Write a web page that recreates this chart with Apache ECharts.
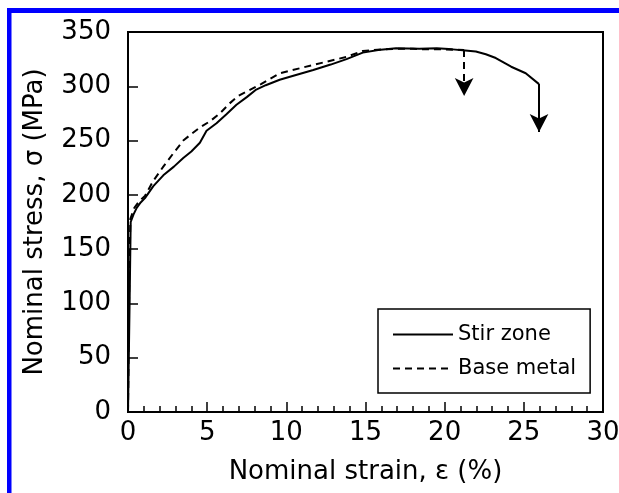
<!DOCTYPE html>
<html>
<head>
<meta charset="utf-8">
<script src="https://cdn.jsdelivr.net/npm/echarts@6/dist/echarts.min.js"></script>
<style>html,body{margin:0;padding:0;background:#fff}#c{width:619px;height:493px}</style>
</head>
<body>
<div id="c"></div>
<script>
// Stir zone curve (strain %, stress MPa)
const stirStrain = [0, 0.1, 0.17, 0.35, 0.55, 0.8, 1.07, 1.6, 2.23, 2.9, 3.49, 4.0, 4.54, 4.96, 5.59, 6.2, 6.85, 7.5, 8.1, 8.7, 9.58, 10.5, 11.7, 12.8, 13.8, 14.83, 15.8, 16.93, 18.4, 19.5, 20.5, 21.3, 21.97, 22.6, 23.23, 24.2, 25.12, 25.96];
const stirStress = [0, 100, 175, 182, 188, 193, 197, 208, 218, 226, 234, 240, 248, 259, 266, 274, 283, 290, 297, 301, 306, 310, 315, 320, 325, 331, 333.5, 335, 334.5, 335, 334, 333, 332, 329.5, 326, 318, 312, 302];
// Base metal curve
const baseStrain = [0, 0.08, 0.15, 0.4, 0.7, 1.07, 1.6, 2.23, 2.9, 3.49, 4.0, 4.54, 5.2, 5.8, 6.4, 6.95, 7.6, 8.4, 9.58, 11.68, 13.78, 14.83, 16, 17, 18, 19, 20, 21.23];
const baseStress = [0, 120, 178, 188, 194, 199, 213, 226, 239, 250, 256, 262, 268, 275, 284, 291, 296, 302, 312, 319.6, 327, 332.5, 334, 334.5, 334.5, 334, 334, 333.4];
// Fracture arrows: [strain, stress from, stress to]
const stirFracture = [25.96, 302, 258];
const baseFracture = [21.23, 333.4, 291];
const seriesNames = ['Stir zone', 'Base metal'];
const xTicks = [0, 5, 10, 15, 20, 25, 30];
const yTicks = [0, 50, 100, 150, 200, 250, 300, 350];

const zip = (a, b) => a.map((v, i) => [v, b[i]]);
const FONT = 'DejaVu Sans';
const chart = echarts.init(document.getElementById('c'), null, {renderer: 'canvas'});
const arrowML = (f, type) => ({
  silent: true,
  symbol: ['none', 'arrow'],
  symbolSize: [14, 18],
  label: {show: false},
  lineStyle: {color: '#000', width: 2, type: type},
  emphasis: {disabled: true},
  data: [[{coord: [f[0], f[1]]}, {coord: [f[0], f[2]]}]]
});
chart.setOption({
  animation: false,
  backgroundColor: '#fff',
  graphic: [
    {type: 'rect', shape: {x: 7, y: 8, width: 612, height: 5}, style: {fill: '#0000ff'}},
    {type: 'rect', shape: {x: 7, y: 8, width: 4.5, height: 485}, style: {fill: '#0000ff'}}
  ],
  grid: {left: 128, top: 32, right: 16, bottom: 81, outerBoundsMode: 'none', containLabel: false,
         show: true, borderColor: '#000', borderWidth: 2, backgroundColor: 'transparent'},
  legend: {
    orient: 'vertical', left: 378, top: 309,
    padding: [15, 14, 14, 14], itemGap: 13, itemWidth: 60, itemHeight: 14,
    backgroundColor: '#fff', borderColor: '#000', borderWidth: 1.5, borderRadius: 0,
    itemStyle: {opacity: 0, borderWidth: 0},
    textStyle: {fontFamily: FONT, fontSize: 21, color: '#000'},
    data: seriesNames
  },
  xAxis: {
    type: 'value', min: xTicks[0], max: xTicks[xTicks.length - 1], interval: 5,
    name: 'Nominal strain, ε (%)', nameLocation: 'middle', nameGap: 47,
    nameTextStyle: {fontFamily: FONT, fontSize: 26, color: '#000'},
    axisLine: {show: true, lineStyle: {color: '#000', width: 2}},
    axisTick: {show: true, inside: true, length: 10, lineStyle: {color: '#000', width: 1.5}},
    minorTick: {show: true, splitNumber: 5, length: 6, lineStyle: {color: '#000', width: 1.5}},
    axisLabel: {fontFamily: FONT, fontSize: 26, color: '#000', margin: 8},
    splitLine: {show: false}
  },
  yAxis: {
    type: 'value', min: yTicks[0], max: yTicks[yTicks.length - 1], interval: 50,
    name: 'Nominal stress, σ (MPa)', nameLocation: 'middle', nameGap: 80,
    nameTextStyle: {fontFamily: FONT, fontSize: 26, color: '#000'},
    axisLine: {show: true, lineStyle: {color: '#000', width: 2}},
    axisTick: {show: true, inside: true, length: 10, lineStyle: {color: '#000', width: 1.5}},
    axisLabel: {fontFamily: FONT, fontSize: 26, color: '#000', margin: 17},
    splitLine: {show: false}
  },
  series: [
    {
      name: seriesNames[0], type: 'line', data: zip(stirStrain, stirStress),
      showSymbol: false, symbol: 'none', smooth: false,
      lineStyle: {color: '#000', width: 2, type: 'solid'}, itemStyle: {color: '#000'},
      markLine: arrowML(stirFracture, 'solid'), z: 3
    },
    {
      name: seriesNames[1], type: 'line', data: zip(baseStrain, baseStress),
      showSymbol: false, symbol: 'none', smooth: false,
      lineStyle: {color: '#000', width: 2, type: [7, 5]}, itemStyle: {color: '#000'},
      markLine: arrowML(baseFracture, [7, 5]), z: 2
    }
  ]
});
</script>
</body>
</html>
